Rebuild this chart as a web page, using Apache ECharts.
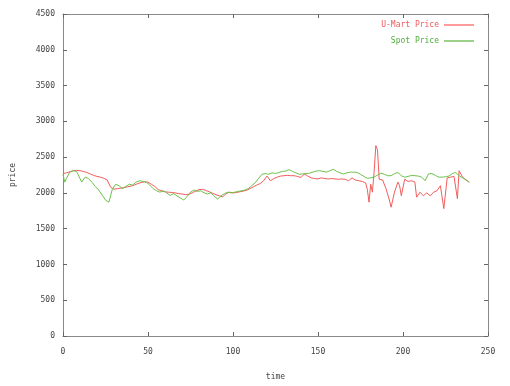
<!DOCTYPE html>
<html>
<head>
    <meta charset="utf-8">
    <!-- ECharts -->
    <script src="https://cdn.jsdelivr.net/npm/echarts@6/dist/echarts.min.js"></script>
    <style>
        html, body { margin: 0; padding: 0; background: #fff; }
        #main { width: 510px; height: 386px; }
    </style>
</head>
<body>
    <div id="main"></div>
<script type="text/javascript">
    // U-Mart price
    var umartTimes = [0, 2, 4, 6, 8, 10, 12, 14, 16, 18, 20, 22, 24, 26, 28, 30, 32, 34, 36, 38,
        40, 42, 44, 46, 48, 50, 52, 54, 56, 58, 60, 62, 64, 66, 68, 70, 72, 74, 76, 78,
        80, 82, 84, 86, 88, 90, 92, 94, 96, 98, 100, 102, 104, 106, 108, 110, 112, 114, 116, 118,
        120, 122, 124, 126, 128, 130, 132, 134, 136, 138, 140, 142, 144, 146, 148, 150, 152, 154, 156, 158,
        160, 162, 164, 166, 168, 170, 172, 174, 176, 178, 179, 180, 181, 182, 183, 184, 185, 186, 188, 190,
        192, 193, 195, 197, 198, 199, 201, 203, 205, 207, 208, 210, 212, 214, 216, 218, 220, 222, 224, 226,
        228, 230, 232, 233, 235, 237, 239];
    var umartPrice = [2270, 2280, 2295, 2310, 2315, 2310, 2300, 2285, 2265, 2245, 2230, 2220, 2205, 2180, 2080, 2050, 2060, 2065, 2075, 2085,
        2095, 2110, 2130, 2145, 2155, 2150, 2120, 2090, 2045, 2030, 2015, 2010, 2005, 2000, 1990, 1985, 1975, 1980, 2000, 2025,
        2045, 2050, 2035, 2015, 1995, 1975, 1960, 1945, 1990, 2010, 2000, 2005, 2015, 2025, 2035, 2060, 2085, 2110, 2130, 2170,
        2235, 2170, 2200, 2220, 2235, 2240, 2245, 2240, 2240, 2230, 2215, 2265, 2235, 2210, 2200, 2195, 2210, 2200, 2195, 2200,
        2195, 2190, 2195, 2190, 2170, 2210, 2180, 2170, 2160, 2140, 2050, 1870, 2120, 2010, 2290, 2660, 2600, 2190, 2180, 2060,
        1900, 1800, 2010, 2150, 2100, 1960, 2190, 2160, 2170, 2150, 1940, 2010, 1960, 2000, 1960, 2010, 2030, 2100, 1780, 2210,
        2220, 2230, 1920, 2310, 2220, 2180, 2150];

    // Spot price
    var spotTimes = [0, 1, 2, 4, 6, 8, 10, 11, 13, 15, 17, 19, 21, 23, 25, 27, 29, 31, 33, 35,
        37, 39, 41, 43, 45, 47, 49, 51, 53, 55, 57, 59, 61, 63, 65, 67, 69, 71, 73, 75,
        77, 79, 81, 83, 85, 87, 89, 91, 93, 95, 97, 99, 101, 103, 105, 107, 109, 111, 113, 115,
        117, 119, 121, 123, 125, 127, 129, 131, 133, 135, 137, 139, 141, 143, 145, 147, 149, 151, 153, 155,
        157, 159, 161, 163, 165, 167, 169, 171, 173, 175, 177, 179, 181, 183, 185, 187, 189, 191, 193, 195,
        197, 199, 201, 203, 205, 207, 209, 211, 213, 215, 217, 219, 221, 223, 225, 227, 229, 231, 233, 235,
        237, 239];
    var spotPrice = [2260, 2150, 2200, 2290, 2310, 2300, 2200, 2150, 2220, 2200, 2150, 2090, 2040, 1970, 1900, 1870, 2050, 2120, 2100, 2060,
        2090, 2120, 2110, 2150, 2170, 2160, 2150, 2110, 2060, 2030, 2010, 2030, 2000, 1965, 1990, 1960, 1930, 1900, 1950, 2010,
        2040, 2020, 2030, 2000, 1985, 2000, 1950, 1915, 1960, 1990, 2010, 2000, 2010, 2020, 2030, 2040, 2060, 2100, 2140, 2200,
        2260, 2270, 2260, 2280, 2270, 2285, 2300, 2305, 2325, 2300, 2280, 2260, 2265, 2270, 2275, 2290, 2305, 2310, 2300, 2290,
        2310, 2330, 2300, 2280, 2265, 2280, 2290, 2290, 2285, 2260, 2230, 2205, 2210, 2220, 2250, 2275, 2260, 2240, 2240, 2270,
        2285, 2240, 2220, 2230, 2245, 2240, 2235, 2220, 2170, 2265, 2270, 2245, 2220, 2220, 2225, 2235, 2270, 2285, 2240, 2210,
        2185, 2150];

    var xTicks = [0, 50, 100, 150, 200, 250];
    var yTicks = [0, 500, 1000, 1500, 2000, 2500, 3000, 3500, 4000, 4500];

    function pairs(xs, ys) {
        var out = [];
        for (var i = 0; i < xs.length; i++) out.push([xs[i], ys[i]]);
        return out;
    }

    var myChart = echarts.init(document.getElementById('main'));

    var labelFont = {fontFamily: 'DejaVu Sans Mono', fontSize: 8, color: '#444'};
    var frameLine = {show: true, onZero: false, lineStyle: {color: '#888', width: 1}};
    var frameTick = {show: true, inside: true, length: 4, lineStyle: {color: '#666'}};
    var plainLabel = function (v) { return String(v); };

    var option = {
        animation: false,
        backgroundColor: '#fff',
        grid: {left: 63, right: 22, top: 14, bottom: 48},
        legend: {
            orient: 'vertical',
            right: 31,
            top: 16,
            align: 'right',
            icon: 'rect',
            itemWidth: 30,
            itemHeight: 2,
            itemGap: 8,
            textStyle: {fontFamily: 'DejaVu Sans Mono', fontSize: 8},
            data: [
                {name: 'U-Mart Price', itemStyle: {color: '#ff9a9a'}, textStyle: {color: '#f05a5a'}},
                {name: 'Spot Price', itemStyle: {color: '#9ccf88'}, textStyle: {color: '#4fae3a'}}
            ]
        },
        xAxis: [
            {
                type: 'value',
                min: xTicks[0],
                max: xTicks[xTicks.length - 1],
                interval: 50,
                name: 'time',
                nameLocation: 'middle',
                nameGap: 37,
                nameTextStyle: labelFont,
                axisLine: frameLine,
                axisTick: frameTick,
                axisLabel: {margin: 12, fontFamily: labelFont.fontFamily, fontSize: 8, color: '#444', formatter: plainLabel},
                splitLine: {show: false}
            },
            {
                type: 'value',
                position: 'top',
                min: xTicks[0],
                max: xTicks[xTicks.length - 1],
                interval: 50,
                axisLine: frameLine,
                axisTick: frameTick,
                axisLabel: {show: false},
                splitLine: {show: false}
            }
        ],
        yAxis: [
            {
                type: 'value',
                min: yTicks[0],
                max: yTicks[yTicks.length - 1],
                interval: 500,
                name: 'price',
                nameLocation: 'middle',
                nameGap: 46,
                nameTextStyle: labelFont,
                axisLine: frameLine,
                axisTick: frameTick,
                axisLabel: {margin: 8, fontFamily: labelFont.fontFamily, fontSize: 8, color: '#444', formatter: plainLabel},
                splitLine: {show: false}
            },
            {
                type: 'value',
                position: 'right',
                min: yTicks[0],
                max: yTicks[yTicks.length - 1],
                interval: 500,
                axisLine: frameLine,
                axisTick: frameTick,
                axisLabel: {show: false},
                splitLine: {show: false}
            }
        ],
        series: [
            {
                name: 'U-Mart Price',
                type: 'line',
                symbol: 'none',
                color: '#ff9a9a',
                lineStyle: {width: 1, color: '#f25c5c'},
                data: pairs(umartTimes, umartPrice)
            },
            {
                name: 'Spot Price',
                type: 'line',
                symbol: 'none',
                color: '#9ccf88',
                lineStyle: {width: 1, color: '#6cc24a'},
                data: pairs(spotTimes, spotPrice)
            }
        ]
    };

    myChart.setOption(option);
</script>
</body>
</html>
